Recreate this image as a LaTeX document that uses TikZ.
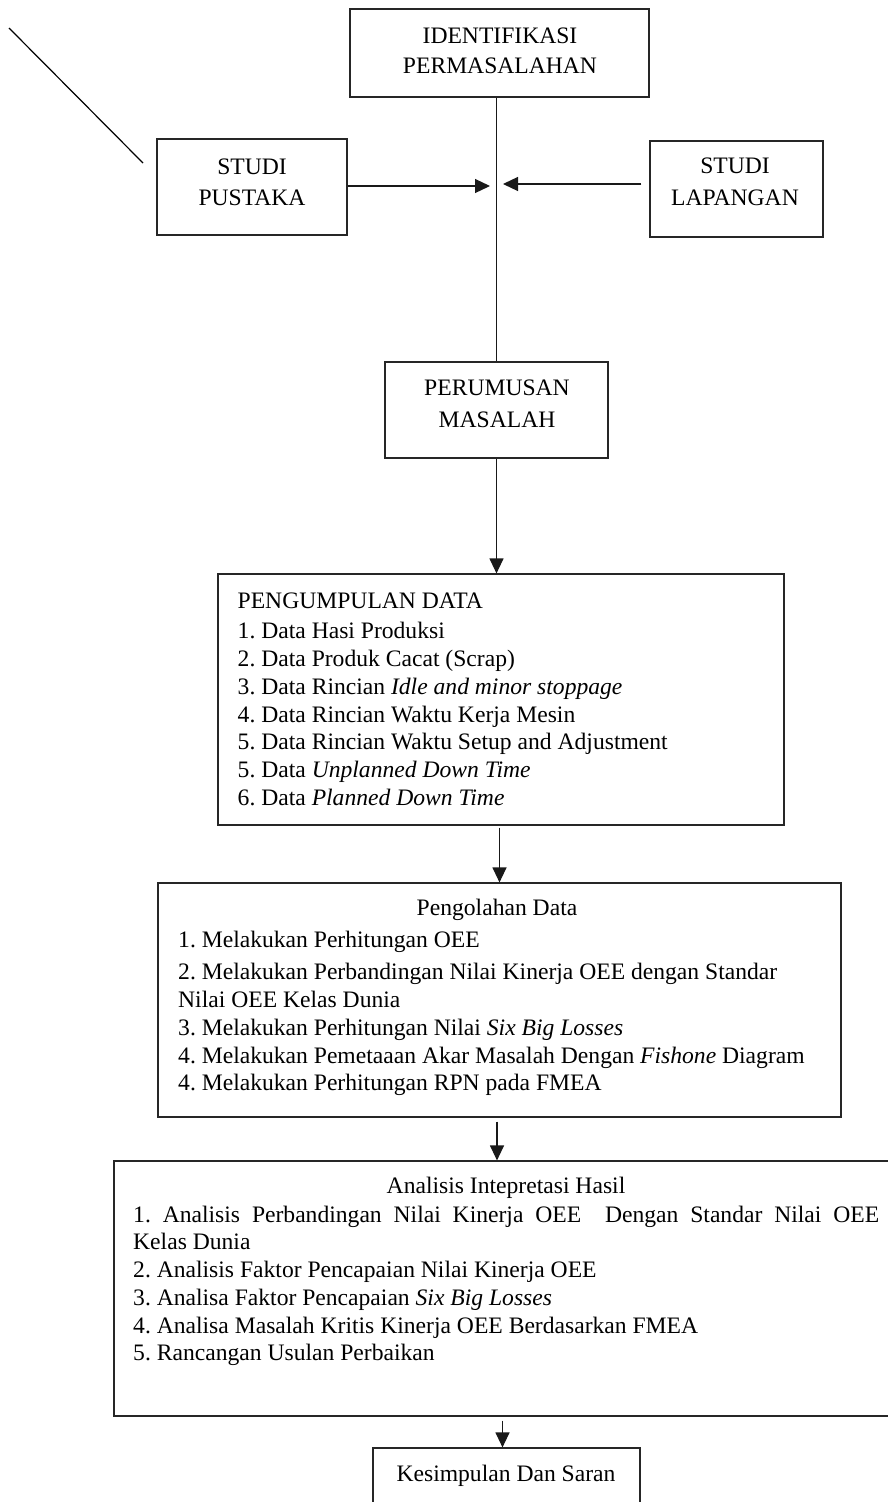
\documentclass[tikz,border=0pt]{standalone}
\usepackage{fontspec}
\setmainfont{Liberation Serif}
\usetikzlibrary{arrows.meta}
\newcommand\myTopStrut{\rule{0pt}{18pt}}
\frenchspacing
\begin{document}
\begin{tikzpicture}[x=1pt,y=-1pt,
  box/.style={draw=black!85,line width=1.2pt,inner sep=0pt},
  txt/.style={inner sep=0pt,font=\fontsize{23.6}{27.7}\selectfont},
  conn/.style={line width=1.2pt,draw=black!90},
  arr/.style={conn,-{Triangle[length=15pt,width=14pt]}}]
\useasboundingbox (0,0) rectangle (888,1502);

% boxes
\node[box,minimum width=299pt,minimum height=88pt] (ident) at (499.5,53) {};
\node[box,minimum width=190pt,minimum height=96pt] (pust) at (252,187) {};
\node[box,minimum width=173pt,minimum height=96pt] (lap) at (736.5,189) {};
\node[box,minimum width=223pt,minimum height=96pt] (perum) at (496.5,410) {};
\node[box,minimum width=566pt,minimum height=251pt] (peng) at (501,699.5) {};
\node[box,minimum width=683pt,minimum height=234pt] (olah) at (499.5,1000) {};
\node[box,minimum width=796pt,minimum height=255pt] (ana) at (512,1288.5) {};
\node[box,minimum width=267pt,minimum height=82pt] (kes) at (506.5,1489) {};

% texts
\node[txt,align=center,anchor=north] (identT) at (500,25) {\myTopStrut IDENTIFIKASI\\[2.3pt]PERMASALAHAN};
\node[txt,align=center,anchor=north] (pustT) at (252,156) {\myTopStrut STUDI\\[3.3pt]PUSTAKA};
\node[txt,align=center,anchor=north] (lapT) at (735,155) {\myTopStrut STUDI\\[4.3pt]LAPANGAN};
\node[txt,align=center,anchor=north] (perumT) at (497,377) {\myTopStrut PERUMUSAN\\[4.3pt]MASALAH};
\node[txt,align=left,anchor=north west] (pengT) at (237.5,590) {\myTopStrut PENGUMPULAN DATA\\[3pt]
1. Data Hasi Produksi\\
2. Data Produk Cacat (Scrap)\\
3. Data Rincian \textit{Idle and minor stoppage}\\
4. Data Rincian Waktu Kerja Mesin\\
5. Data Rincian Waktu Setup and Adjustment\\
5. Data \textit{Unplanned Down Time}\\
6. Data \textit{Planned Down Time}};
\node[txt,anchor=base] (olahTitle) at (497,915) {Pengolahan Data};
\node[txt,align=left,anchor=north west] (olahT) at (178,929) {\myTopStrut 1. Melakukan Perhitungan OEE\\[5pt]
2. Melakukan Perbandingan Nilai Kinerja OEE dengan Standar\\
Nilai OEE Kelas Dunia\\
3. Melakukan Perhitungan Nilai \textit{Six Big Losses}\\
4. Melakukan Pemetaaan Akar Masalah Dengan \textit{Fishone} Diagram\\
4. Melakukan Perhitungan RPN pada FMEA};
\node[txt,anchor=base] (anaTitle) at (506,1193) {Analisis Intepretasi Hasil};
\node[txt,align=left,anchor=north west] (anaT) at (133,1204) {\myTopStrut\makebox[746pt][s]{1. Analisis Perbandingan Nilai Kinerja OEE\ \ Dengan Standar Nilai OEE}\\
Kelas Dunia\\
2. Analisis Faktor Pencapaian Nilai Kinerja OEE\\
3. Analisa Faktor Pencapaian \textit{Six Big Losses}\\
4. Analisa Masalah Kritis Kinerja OEE Berdasarkan FMEA\\
5. Rancangan Usulan Perbaikan};
\node[txt,anchor=base] (kesT) at (506,1481) {Kesimpulan Dan Saran};

% free line
\coordinate (d1) at (9,28);
\coordinate (d2) at (143,163);
\draw[line width=1.2pt] (d1) -- (d2);

% connectors
\coordinate (tipL) at (490,186);
\coordinate (tipR) at (503,184);
\draw[arr] (pust.east |- tipL) -- (tipL);
\draw[arr,shorten <=8pt] (lap.west |- tipR) -- (tipR);
\draw[conn] (perum.north |- ident.south) -- (perum.north);
\draw[arr] (perum.south) -- (perum.south |- peng.north);
\draw[arr,shorten <=2pt] (olah.north |- peng.south) -- (olah.north);
\draw[arr,shorten <=4pt] ([xshift=-2.5pt]olah.south) -- ([xshift=-2.5pt]olah.south |- ana.north);
\draw[arr,shorten <=4pt] ([xshift=-4pt]kes.north |- ana.south) -- ([xshift=-4pt]kes.north);
\end{tikzpicture}
\end{document}
